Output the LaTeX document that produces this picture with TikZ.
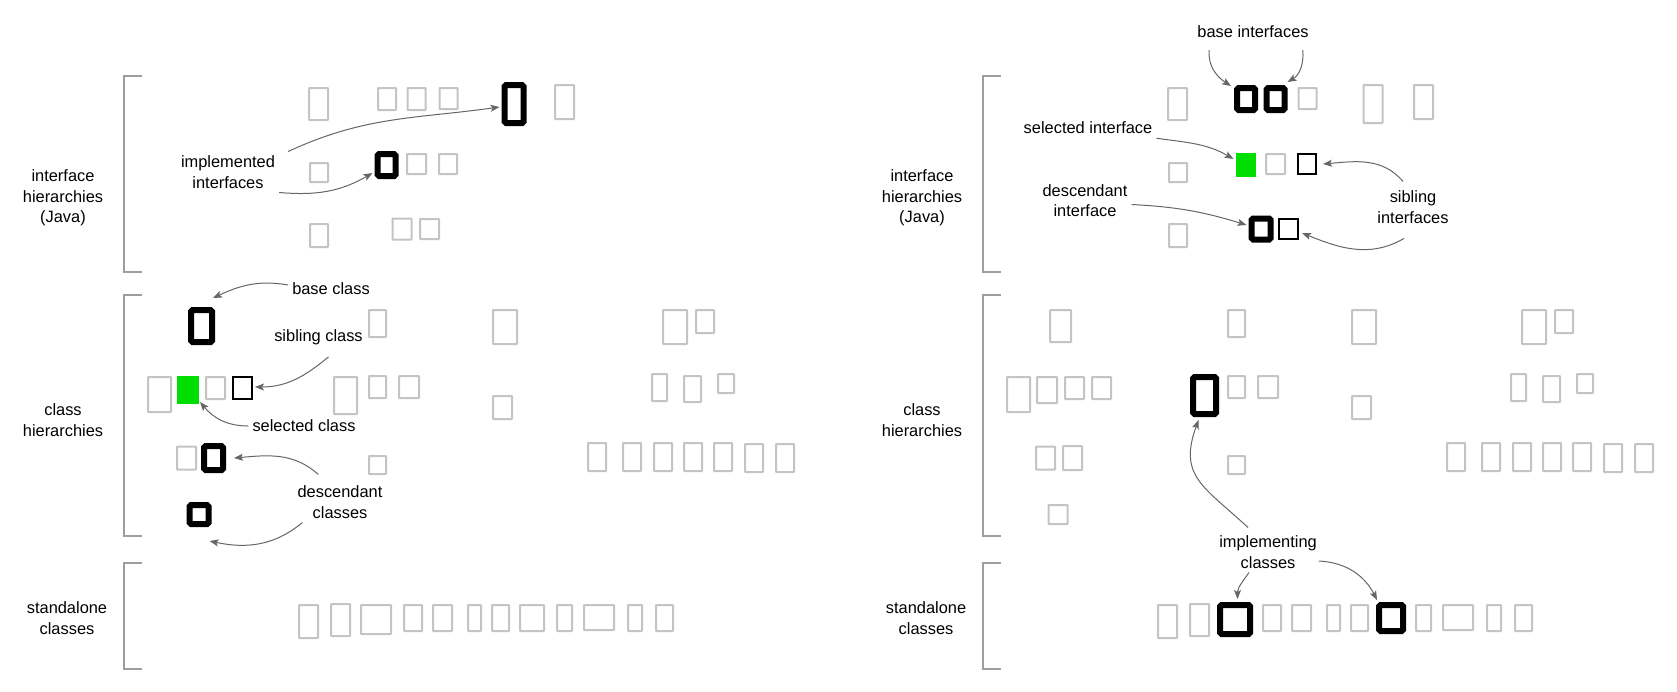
\documentclass[tikz,border=0pt]{standalone}
\usepackage{fontspec}
\setmainfont{Liberation Sans}
\usetikzlibrary{arrows.meta}
\definecolor{boxgray}{HTML}{C4C4C4}
\definecolor{bracketgray}{HTML}{9E9E9E}
\definecolor{arrowgray}{HTML}{666666}
\definecolor{selgreen}{HTML}{00DD00}

\tikzset{
  gbox/.style={draw=boxgray,line width=2pt,rounded corners=0.5pt,inner sep=0pt},
  hbox/.style={draw=black,line width=6pt,rounded corners=1.5pt,inner sep=0pt},
  tbox/.style={draw=black,line width=2pt,inner sep=0pt},
  sbox/.style={draw=selgreen,fill=selgreen,line width=2pt,inner sep=0pt},
  lbl/.style={font=\fontsize{16.4}{20.5}\selectfont,align=center,inner sep=4pt},
  bracket/.style={draw=bracketgray,line width=1.3pt},
  conn/.style={draw=arrowgray,line width=1pt,-{Stealth[length=9pt,width=7pt,inset=2pt]}},
}

\begin{document}
\begin{tikzpicture}[x=1pt,y=1pt]
\path[use as bounding box,fill=white] (0,0) rectangle (1677,-691);

% section brackets and titles, left and right panel
\foreach \p/\dx in {L/0,R/859}{
  \foreach \ya/\yb in {76/272,295/536,563/669}
    \draw[bracket] (142+\dx,-\ya) -- (124+\dx,-\ya) -- (124+\dx,-\yb) -- (142+\dx,-\yb);
  \node[lbl] (ifSec-\p) at (63+\dx,-198) {interface\\hierarchies\\(Java)};
  \node[lbl] (clsSec-\p) at (63+\dx,-420) {class\\hierarchies};
  \node[lbl] (saSec-\p) at (67+\dx,-618) {standalone\\classes};
}

% boxes: name / x / y / width / height / style left / style right
\foreach \n/\x/\y/\w/\h/\lsty/\rsty in {
  i1/318.5/104/19/32/gbox/gbox, i2/387/99/18/22/gbox/hbox,
  i3/416.5/99/18/22/gbox/hbox, i4/448.5/98.5/18/21/gbox/gbox,
  i5/514/104/19/38/hbox/gbox, i6/564.5/102/19/34/gbox/gbox,
  i7/319/172.5/18/19/gbox/gbox, i8/386.5/165/18/22/hbox/sbox,
  i9/416.5/164/19/20/gbox/gbox, i10/448/164/18/20/gbox/tbox,
  i11/319/235.5/18/23/gbox/gbox, i12/402/229/19/21/gbox/hbox,
  i13/429.5/229/19/20/gbox/tbox,
  c1/201.5/326/21/32/hbox/gbox, c2/377.5/323.5/17/27/gbox/gbox,
  c3/505/327/24/34/gbox/gbox, c4/675/327/24/34/gbox/gbox,
  c5/705/321.5/18/23/gbox/gbox, c6/159.5/394.5/23/35/gbox/gbox,
  c7/188/390/20/26/sbox/gbox, c8/215.5/388/19/22/gbox/gbox,
  c9/242.5/388/19/22/tbox/gbox, c10/345.5/395.5/23/37/gbox/hbox,
  c11/377.5/387/17/22/gbox/gbox, c12/409/387/20/22/gbox/gbox,
  c13/502.5/407.5/19/23/gbox/gbox, c14/659.5/387.5/15/27/gbox/gbox,
  c15/692.5/389/17/26/gbox/gbox, c16/726/383.5/16/19/gbox/gbox,
  c17/186.5/458/19/23/gbox/gbox, c18/213.5/458/19/24/hbox/gbox,
  c19/377.5/465/17/18/gbox/gbox, c20/597/457/18/28/gbox/gbox,
  c21/632/457/18/28/gbox/gbox, c22/663/457/18/28/gbox/gbox,
  c23/693/457/18/28/gbox/gbox, c24/723/457/18/28/gbox/gbox,
  c25/754/458/18/28/gbox/gbox, c26/785/458/18/28/gbox/gbox,
  c27/199/514.5/19/19/hbox/gbox,
  s1/308.5/621.5/19/33/gbox/gbox, s2/340.5/620/19/32/gbox/gbox,
  s3/376/619.5/30/29/gbox/hbox, s4/413/618/18/26/gbox/gbox,
  s5/442.5/618/19/26/gbox/gbox, s6/474.5/618/13/26/gbox/gbox,
  s7/500.5/618/17/26/gbox/gbox, s8/532/618/24/26/gbox/hbox,
  s9/564.5/618/15/26/gbox/gbox, s10/599/617.5/30/25/gbox/gbox,
  s11/635/618/14/26/gbox/gbox, s12/664.5/618/17/26/gbox/gbox}{
  \node[\lsty,minimum width=\w pt,minimum height=\h pt] (L-\n) at (\x,-\y) {};
  \node[\rsty,minimum width=\w pt,minimum height=\h pt] (R-\n) at (\x+859,-\y) {};
}

% left panel: class view
\node[lbl] (implLbl) at (228,-172) {implemented\\interfaces};
\node[lbl] (baseLbl) at (331,-289) {base class};
\node[lbl] (sibLbl) at (318.5,-337) {sibling class};
\node[lbl] (selLbl) at (304,-426) {selected class};
\node[lbl] (descLbl) at (340,-502) {descendant\\classes};

\draw[conn] ([xshift=9pt]implLbl.north east) to[out=25,in=188] ([shift={(-2,-3)}]L-i5.west);
\draw[conn] (implLbl.south east) to[out=-5,in=210] ([shift={(-2,6)}]L-i8.south west);
\draw[conn] ([yshift=4pt]baseLbl.west) to[out=170,in=25] ([shift={(-2,9)}]L-c1.north east);
\draw[conn] ([shift={(10,-8)}]sibLbl.south) to[out=220,in=0] ([shift={(2,1)}]L-c9.east);
\draw[conn] (selLbl.west) to[out=180,in=-50] ([shift={(1,2)}]L-c7.south east);
\draw[conn] ([shift={(25,7)}]descLbl.north west) to[out=138,in=5] ([xshift=8pt]L-c18.east);
\draw[conn] ([xshift=9pt]descLbl.south west) to[out=220,in=-12] ([shift={(-2,-14)}]L-c27.south east);

% right panel: interface view
\node[lbl] (bifLbl) at (1253,-32) {base interfaces};
\node[lbl] (sifLbl) at (1088,-128) {selected interface};
\node[lbl] (sibsLbl) at (1413,-207) {sibling\\interfaces};
\node[lbl] (difLbl) at (1085,-200.5) {descendant\\interface};
\node[lbl] (implcLbl) at (1268,-552) {implementing\\classes};

\draw[conn] ([shift={(16,-8)}]bifLbl.south west) to[out=-95,in=147] ([shift={(-3,-1)}]R-i2.north west);
\draw[conn] ([shift={(-10,-8)}]bifLbl.south east) to[out=-85,in=30] ([shift={(0,3)}]R-i3.north east);
\draw[conn] (sifLbl.south east) to[out=-8,in=150] ([shift={(-2,-6)}]R-i8.north west);
\draw[conn] ([shift={(-10,5)}]sibsLbl.north) to[out=130,in=5] ([xshift=6pt]R-i10.east);
\draw[conn] ([shift={(-9,-11)}]sibsLbl.south) to[out=210,in=-22] ([shift={(3,-4)}]R-i13.east);
\draw[conn] ([yshift=-4pt]difLbl.east) to[out=-3,in=163] ([shift={(-2,4)}]R-i12.west);
\draw[conn] ([shift={(-20,4)}]implcLbl.north) to[out=137,in=-110,looseness=1.3] ([shift={(-6,-3)}]R-c10.south);
\draw[conn] ([xshift=-19pt]implcLbl.south) to[out=235,in=90] ([shift={(2.5,3)}]R-s3.north);
\draw[conn] ([shift={(-2,-9)}]implcLbl.east) to[out=-3,in=117] ([shift={(1,2)}]R-s8.north west);
\end{tikzpicture}
\end{document}
